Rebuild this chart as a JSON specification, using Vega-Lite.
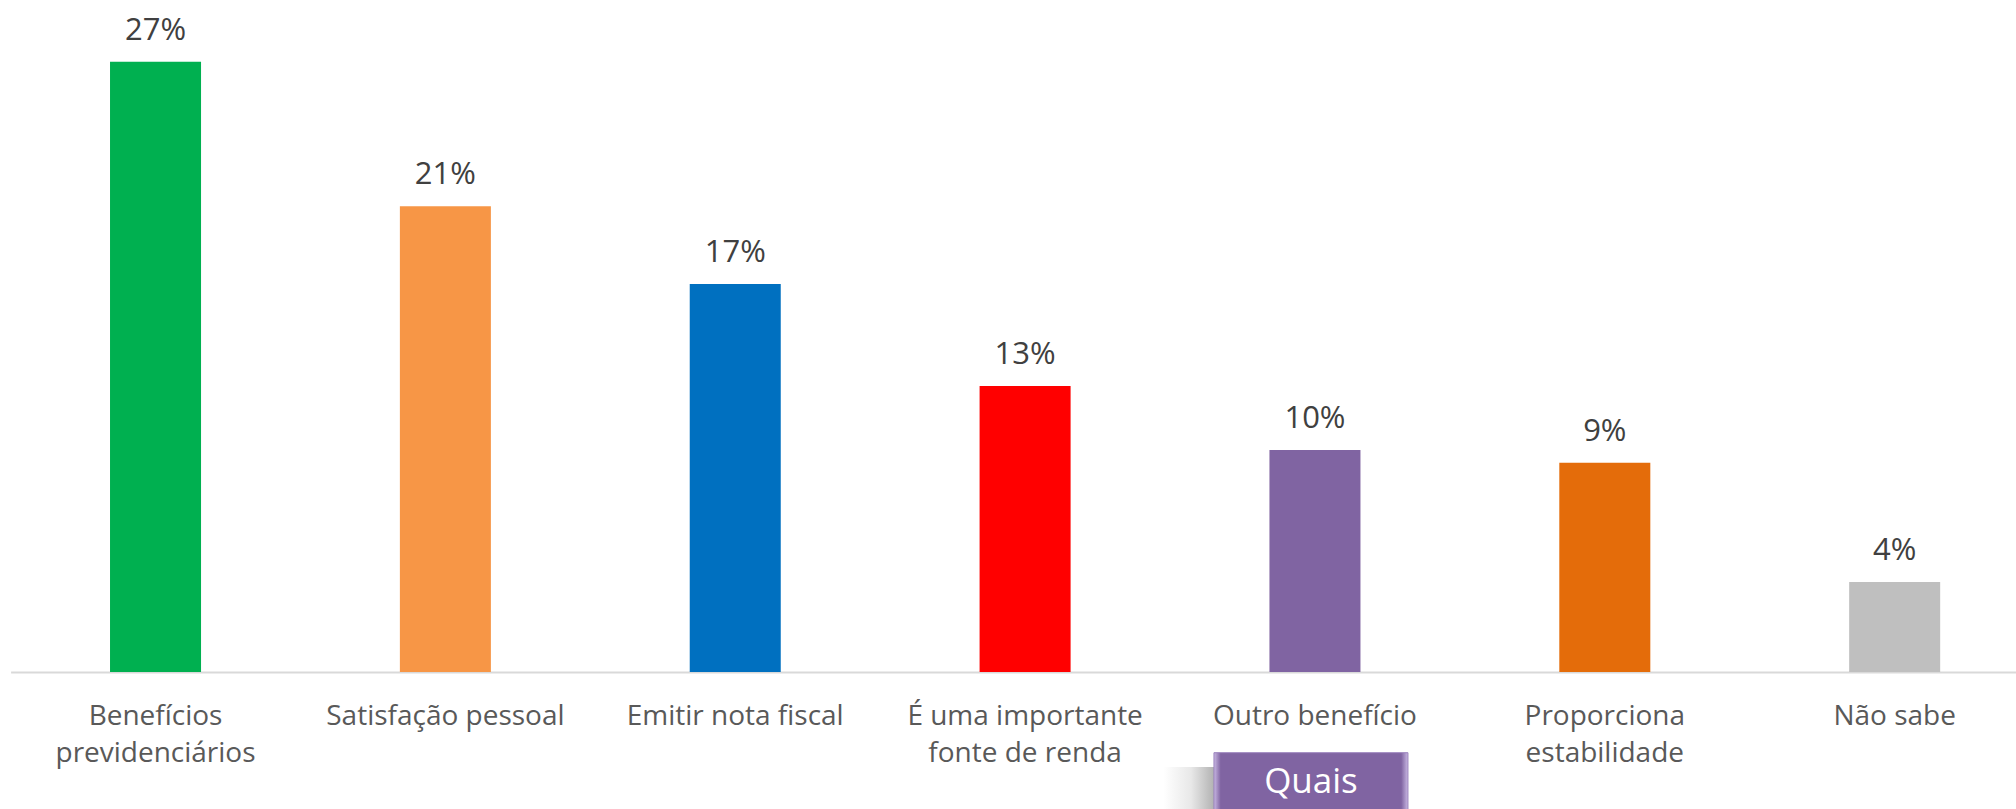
{
  "$schema": "https://vega.github.io/schema/vega-lite/v6.json",
  "width": 2005,
  "height": 672,
  "autosize": {"type": "none"},
  "padding": {"left": 10.6, "top": 0, "right": 0, "bottom": 137},
  "background": "white",
  "config": {"view": {"stroke": null}, "font": "Open Sans"},
  "datasets": {
    "main": [
      {"cat": "Benefícios previdenciários", "value": 27.0, "label": "27%"},
      {"cat": "Satisfação pessoal", "value": 20.6, "label": "21%"},
      {"cat": "Emitir nota fiscal", "value": 17.17, "label": "17%"},
      {"cat": "É uma importante fonte de renda", "value": 12.65, "label": "13%"},
      {"cat": "Outro benefício", "value": 9.82, "label": "10%"},
      {"cat": "Proporciona estabilidade", "value": 9.26, "label": "9%"},
      {"cat": "Não sabe", "value": 3.98, "label": "4%"}
    ],
    "note": [
      {"cat": "Outro benefício", "text": "Quais", "top": -3.57, "bottom": -6.8, "textY": -5.35, "shTop": -4.2}
    ]
  },
  "layer": [
    {
      "data": {"name": "main"},
      "mark": {"type": "bar", "width": {"band": 1}},
      "encoding": {
        "x": {
          "field": "cat", "type": "nominal", "sort": null,
          "scale": {"range": [0, 2029], "paddingInner": 0.686, "paddingOuter": 0.343},
          "axis": {
            "title": null, "ticks": false, "domainColor": "#d9d9d9", "domainWidth": 2,
            "labelAngle": 0, "labelFont": "Open Sans", "labelFontSize": 28, "labelColor": "#595959",
            "labelBaseline": "alphabetic", "labelPadding": 53, "labelLineHeight": 37, "labelLimit": 0,
            "labelExpr": "datum.value == 'Benefícios previdenciários' ? ['Benefícios', 'previdenciários'] : datum.value == 'É uma importante fonte de renda' ? ['É uma importante', 'fonte de renda'] : datum.value == 'Proporciona estabilidade' ? ['Proporciona', 'estabilidade'] : datum.value"
          }
        },
        "y": {
          "field": "value", "type": "quantitative",
          "scale": {"domain": [0, 29.73], "nice": false, "zero": true},
          "axis": null
        },
        "color": {
          "field": "cat", "type": "nominal", "sort": null, "legend": null,
          "scale": {"range": ["#00b050", "#f79646", "#0070c0", "#ff0000", "#8064a2", "#e46c0a", "#bfbfbf"]}
        }
      }
    },
    {
      "data": {"name": "main"},
      "mark": {"type": "text", "baseline": "alphabetic", "dy": -22, "fontSize": 31, "color": "#404040", "font": "Open Sans"},
      "encoding": {
        "x": {"field": "cat", "type": "nominal", "sort": null},
        "y": {"field": "value", "type": "quantitative"},
        "text": {"field": "label"}
      }
    },
    {
      "data": {"name": "note"},
      "mark": {"type": "bar", "width": 55, "xOffset": -124,
        "color": {"gradient": "linear", "x1": 0, "x2": 1, "y1": 0, "y2": 0,
          "stops": [{"offset": 0, "color": "#ffffff"}, {"offset": 0.5, "color": "#e8e8e8"}, {"offset": 1, "color": "#a8a8a8"}]}},
      "encoding": {
        "x": {"field": "cat", "type": "nominal", "sort": null},
        "y": {"field": "shTop", "type": "quantitative"},
        "y2": {"field": "bottom"}
      }
    },
    {
      "data": {"name": "note"},
      "mark": {"type": "bar", "width": 194, "xOffset": -4,
        "color": {"gradient": "linear", "x1": 0, "x2": 1, "y1": 0, "y2": 0,
          "stops": [{"offset": 0, "color": "#c9b8e3"}, {"offset": 0.035, "color": "#8064a2"}, {"offset": 0.965, "color": "#8064a2"}, {"offset": 1, "color": "#c9b8e3"}]},
        "stroke": "#9a82bd", "strokeWidth": 1},
      "encoding": {
        "x": {"field": "cat", "type": "nominal", "sort": null},
        "y": {"field": "top", "type": "quantitative"},
        "y2": {"field": "bottom"}
      }
    },
    {
      "data": {"name": "note"},
      "mark": {"type": "text", "baseline": "alphabetic", "fontSize": 35, "color": "#ffffff", "font": "Open Sans", "xOffset": -4},
      "encoding": {
        "x": {"field": "cat", "type": "nominal", "sort": null},
        "y": {"field": "textY", "type": "quantitative"},
        "text": {"field": "text"}
      }
    }
  ]
}
